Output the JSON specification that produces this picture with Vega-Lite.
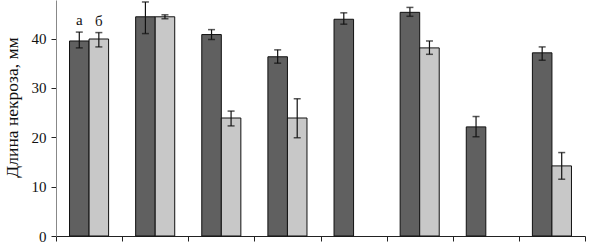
{
  "$schema": "https://vega.github.io/schema/vega-lite/v6.json",
  "width": 529,
  "height": 236,
  "autosize": {"type": "none"},
  "padding": {"left": 56, "top": 0, "right": 4, "bottom": 8},
  "background": "white",
  "config": {"view": {"stroke": null}, "font": "Liberation Serif"},
  "data": {"values": [
    {"group": 1, "series": "а", "value": 39.5, "lo": 38.1, "hi": 41.3, "label": "а"},
    {"group": 1, "series": "б", "value": 39.9, "lo": 38.3, "hi": 41.2, "label": "б"},
    {"group": 2, "series": "а", "value": 44.4, "lo": 41.0, "hi": 47.4, "label": ""},
    {"group": 2, "series": "б", "value": 44.4, "lo": 44.0, "hi": 44.8, "label": ""},
    {"group": 3, "series": "а", "value": 40.8, "lo": 39.8, "hi": 41.8, "label": ""},
    {"group": 3, "series": "б", "value": 23.9, "lo": 22.3, "hi": 25.3, "label": ""},
    {"group": 4, "series": "а", "value": 36.3, "lo": 35.0, "hi": 37.7, "label": ""},
    {"group": 4, "series": "б", "value": 23.9, "lo": 19.9, "hi": 27.8, "label": ""},
    {"group": 5, "series": "а", "value": 43.9, "lo": 42.9, "hi": 45.2, "label": ""},
    {"group": 6, "series": "а", "value": 45.3, "lo": 44.5, "hi": 46.3, "label": ""},
    {"group": 6, "series": "б", "value": 38.1, "lo": 36.8, "hi": 39.5, "label": ""},
    {"group": 7, "series": "а", "value": 22.1, "lo": 20.1, "hi": 24.2, "label": ""},
    {"group": 8, "series": "а", "value": 37.1, "lo": 35.6, "hi": 38.3, "label": ""},
    {"group": 8, "series": "б", "value": 14.2, "lo": 11.5, "hi": 16.9, "label": ""}
  ]},
  "encoding": {
    "x": {
      "field": "group", "type": "ordinal",
      "scale": {"domain": [1,2,3,4,5,6,7,8], "paddingInner": 0, "paddingOuter": 0},
      "axis": {"title": null, "labels": false, "tickBand": "extent", "tickSize": 5, "tickColor": "#222", "domainColor": "#222", "tickWidth": 1, "domainWidth": 1, "grid": false}
    },
    "xOffset": {
      "field": "series", "type": "nominal",
      "scale": {"domain": ["а", "б"], "paddingInner": 0, "paddingOuter": 0.692}
    }
  },
  "layer": [
    {
      "mark": {"type": "bar", "stroke": "#111", "strokeWidth": 1},
      "encoding": {
        "y": {
          "field": "value", "type": "quantitative",
          "scale": {"domain": [0, 47.8], "nice": false, "zero": true},
          "axis": {
            "title": "Длина некроза, мм", "values": [0, 10, 20, 30, 40],
            "grid": false, "tickSize": 5, "tickColor": "#222", "domainColor": "#888",
            "labelFont": "Liberation Serif", "labelFontSize": 15, "labelColor": "#111", "labelPadding": 5,
            "titleFont": "Liberation Serif", "titleFontSize": 17.5, "titleFontWeight": "normal", "titleColor": "#111",
            "titleX": -44, "titleY": 107, "titleAlign": "center", "titleBaseline": "middle", "titleAngle": -90
          }
        },
        "color": {"field": "series", "type": "nominal", "scale": {"domain": ["а", "б"], "range": ["#606060", "#c8c8c8"]}, "legend": null}
      }
    },
    {
      "mark": {"type": "rule", "color": "#111", "strokeWidth": 1.2},
      "encoding": {
        "y": {"field": "lo", "type": "quantitative"},
        "y2": {"field": "hi"}
      }
    },
    {
      "mark": {"type": "tick", "color": "#111", "size": 7, "thickness": 1.5, "orient": "horizontal"},
      "encoding": {"y": {"field": "lo", "type": "quantitative"}}
    },
    {
      "mark": {"type": "tick", "color": "#111", "size": 7, "thickness": 1.5, "orient": "horizontal"},
      "encoding": {"y": {"field": "hi", "type": "quantitative"}}
    },
    {
      "mark": {"type": "text", "baseline": "bottom", "dy": -4, "fontSize": 15, "font": "Liberation Serif", "color": "#111"},
      "encoding": {
        "y": {"field": "hi", "type": "quantitative"},
        "text": {"field": "label"}
      }
    }
  ]
}
